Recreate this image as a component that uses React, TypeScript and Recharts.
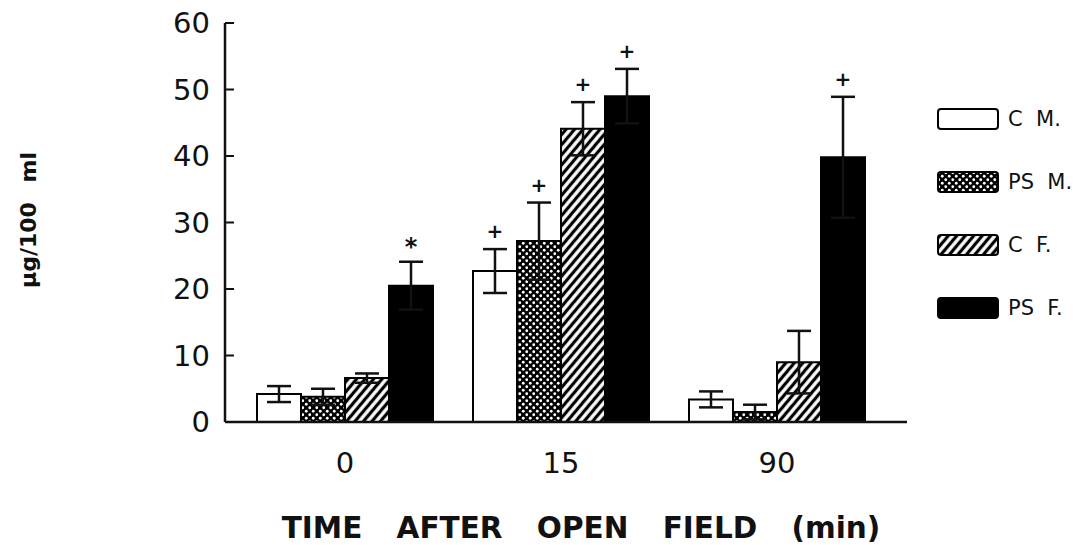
import { BarChart, Bar, XAxis, YAxis, ErrorBar, LabelList, Label } from "recharts";

// values (µg/100 ml)
const categories = ["0", "15", "90"];
const cmValues = [4.2, 22.7, 3.4];
const cmErrors = [1.2, 3.3, 1.2];
const psmValues = [3.8, 27.2, 1.5];
const psmErrors = [1.2, 5.8, 1.1];
const cfValues = [6.6, 44.1, 9.0];
const cfErrors = [0.7, 4.0, 4.7];
const psfValues = [20.5, 49.0, 39.8];
const psfErrors = [3.6, 4.1, 9.1];
const cmMarks = ["", "+", ""];
const psmMarks = ["", "+", ""];
const cfMarks = ["", "+", ""];
const psfMarks = ["*", "+", "+"];
const yTicks = [0, 10, 20, 30, 40, 50, 60];

const FONT = "'DejaVu Sans', sans-serif";
const INK = "#111";

const series = [
  { key: "cm", name: "C  M.", fill: "#fff", values: cmValues, errors: cmErrors, marks: cmMarks },
  { key: "psm", name: "PS  M.", fill: "url(#dots)", values: psmValues, errors: psmErrors, marks: psmMarks },
  { key: "cf", name: "C  F.", fill: "url(#hatch)", values: cfValues, errors: cfErrors, marks: cfMarks },
  { key: "psf", name: "PS  F.", fill: "#000", values: psfValues, errors: psfErrors, marks: psfMarks },
];

const data = categories.map((time, i) => {
  const row: Record<string, any> = { time };
  series.forEach((s) => {
    row[s.key] = s.values[i];
    row[s.key + "Err"] = s.errors[i];
  });
  return row;
});

function YTick({ x, y, payload }: any) {
  return (
    <g>
      {payload.value !== 0 && (
        <line x1={x} x2={x + 9} y1={y} y2={y} stroke={INK} strokeWidth={2} />
      )}
      <text x={x - 15} y={y} dy={10} textAnchor="end" fontSize={29} fill={INK} fontFamily={FONT}>
        {payload.value}
      </text>
    </g>
  );
}

function XTick({ x, y, payload }: any) {
  return (
    <text x={x} y={y} dy={51} textAnchor="middle" fontSize={29} fill={INK} fontFamily={FONT}>
      {payload.value}
    </text>
  );
}

function markContent(s: (typeof series)[number]) {
  return (props: any) => {
    const { x, y, width, height, index } = props;
    const mark = s.marks[index];
    if (!mark) return null;
    const perUnit = height / s.values[index];
    const top = y - s.errors[index] * perUnit;
    return (
      <text
        x={x + width / 2}
        y={top - 19}
        dy={mark === "*" ? 12 : 8}
        textAnchor="middle"
        fontSize={mark === "*" ? 24 : 20}
        fontWeight="bold"
        fill={INK}
        fontFamily={FONT}
      >
        {mark}
      </text>
    );
  };
}

export default function App() {
  return (
    <div style={{ position: "absolute", left: 0, top: 0, width: 1091, height: 545, background: "#fff" }}>
      <svg width={0} height={0} style={{ position: "absolute" }}>
        <defs>
          <pattern id="dots" width={7} height={7} patternUnits="userSpaceOnUse">
            <rect width={7} height={7} fill="#000" />
            <circle cx={1.75} cy={1.75} r={1.4} fill="#fff" />
            <circle cx={5.25} cy={5.25} r={1.4} fill="#fff" />
          </pattern>
          <pattern id="hatch" width={6.5} height={6.5} patternUnits="userSpaceOnUse" patternTransform="rotate(40)">
            <rect width={6.5} height={6.5} fill="#fff" />
            <line x1={3.25} y1={0} x2={3.25} y2={6.5} stroke="#000" strokeWidth={3.2} />
          </pattern>
        </defs>
      </svg>
      <BarChart
        width={1091}
        height={545}
        data={data}
        margin={{ top: 23, right: 184, bottom: 83, left: 165 }}
        barGap={0}
        barSize={44}
      >
        <XAxis
          dataKey="time"
          height={40}
          padding={{ left: 12, right: 22 }}
          axisLine={{ stroke: INK, strokeWidth: 2.5 }}
          tickLine={false}
          tickSize={0}
          tickMargin={0}
          tick={<XTick />}
        >
          <Label
            content={() => (
              <text
                x={581}
                y={538}
                textAnchor="middle"
                fontSize={29.5}
                fontWeight="bold"
                fill={INK}
                fontFamily={FONT}
                style={{ wordSpacing: 24 }}
              >
                TIME AFTER OPEN FIELD (min)
              </text>
            )}
          />
        </XAxis>
        <YAxis
          width={60}
          domain={[0, 60]}
          ticks={yTicks}
          interval={0}
          axisLine={{ stroke: INK, strokeWidth: 2.5 }}
          tickLine={false}
          tickSize={0}
          tickMargin={0}
          tick={<YTick />}
        >
          <Label
            content={() => (
              <text
                x={36}
                y={220}
                transform="rotate(-90 36 220)"
                textAnchor="middle"
                fontSize={22}
                fontWeight="bold"
                fill={INK}
                fontFamily={FONT}
                style={{ wordSpacing: 12 }}
              >
                µg/100 ml
              </text>
            )}
          />
        </YAxis>
        {series.map((s) => (
          <Bar
            key={s.key}
            dataKey={s.key}
            name={s.name}
            fill={s.fill}
            stroke="#000"
            strokeWidth={2}
            isAnimationActive={false}
          >
            <ErrorBar dataKey={s.key + "Err"} direction="y" width={12} stroke={INK} strokeWidth={2.5} />
            <LabelList dataKey={s.key} content={markContent(s)} />
          </Bar>
        ))}
      </BarChart>
      <div style={{ position: "absolute", left: 937, top: 108 }}>
        {series.map((s) => (
          <div key={s.key} style={{ display: "flex", alignItems: "center", height: 22, marginBottom: 41 }}>
            <svg width={62} height={22}>
              <rect x={1} y={1} width={60} height={20} rx={3} fill={s.fill} stroke="#000" strokeWidth={2} />
            </svg>
            <span
              style={{
                marginLeft: 9,
                fontFamily: FONT,
                fontSize: 21,
                color: INK,
                whiteSpace: "pre",
              }}
            >
              {s.name}
            </span>
          </div>
        ))}
      </div>
    </div>
  );
}
